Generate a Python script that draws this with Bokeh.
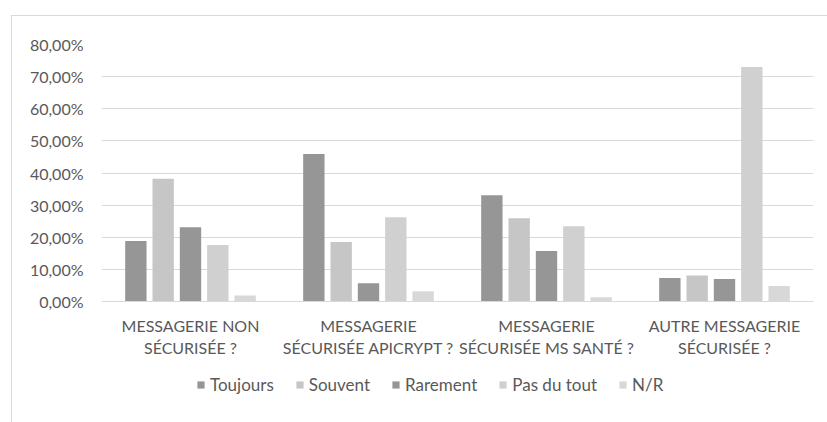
from bokeh.plotting import figure
from bokeh.layouts import column
from bokeh.models import (FactorRange, Legend, LegendItem, CustomJSTickFormatter,
                          FixedTicker, ColumnDataSource)
from bokeh.transform import dodge
from bokeh.embed import file_html
from bokeh.resources import INLINE

categories = ["MESSAGERIE NON\nSÉCURISÉE ?",
              "MESSAGERIE\nSÉCURISÉE APICRYPT ?",
              "MESSAGERIE\nSÉCURISÉE MS SANTÉ ?",
              "AUTRE MESSAGERIE\nSÉCURISÉE ?"]
series = ["Toujours", "Souvent", "Rarement", "Pas du tout", "N/R"]
toujours = [0.188, 0.459, 0.331, 0.073]
souvent = [0.382, 0.185, 0.259, 0.081]
rarement = [0.231, 0.057, 0.157, 0.070]
pas_du_tout = [0.176, 0.262, 0.234, 0.730]
nr = [0.019, 0.032, 0.013, 0.048]
y_ticks = [0.0, 0.1, 0.2, 0.3, 0.4, 0.5, 0.6, 0.7, 0.8]

colors = ["#969696", "#c6c6c6", "#969696", "#d0d0d0", "#d8d8d8"]
FONT = "Lato"
TXT = "#595959"
BORDER = "#d9d9d9"

src = ColumnDataSource(dict(cat=categories, toujours=toujours, souvent=souvent,
                            rarement=rarement, pas=pas_du_tout, nr=nr))
cols = ["toujours", "souvent", "rarement", "pas", "nr"]

p = figure(width=815, height=346, x_range=FactorRange(*categories),
           y_range=(0, 0.8), output_backend="svg", toolbar_location=None,
           min_border_left=89, min_border_right=14, min_border_top=28,
           min_border_bottom=61)
p.outline_line_color = None

step = 0.1535
for i, (c, col) in enumerate(zip(cols, colors)):
    p.vbar(x=dodge("cat", (i - 2) * step, range=p.x_range), top=c, width=0.12,
           source=src, fill_color=col, line_color=None)

p.yaxis.ticker = FixedTicker(ticks=y_ticks)
p.yaxis.formatter = CustomJSTickFormatter(
    code="return (tick*100).toFixed(2).replace('.', ',') + '%';")
p.yaxis.axis_line_color = None
p.yaxis.major_tick_line_color = None
p.yaxis.minor_tick_line_color = None
p.yaxis.major_tick_out = 0
p.yaxis.major_tick_in = 0
p.yaxis.major_label_standoff = 18
p.yaxis.major_label_text_font = FONT
p.yaxis.major_label_text_font_size = "16px"
p.yaxis.major_label_text_color = TXT

p.xaxis.axis_line_color = BORDER
p.xaxis.axis_line_width = 1
p.xaxis.major_tick_line_color = None
p.xaxis.minor_tick_line_color = None
p.xaxis.major_tick_out = 0
p.xaxis.major_tick_in = 0
p.xaxis.major_label_standoff = 14
p.xaxis.major_label_text_font = FONT
p.xaxis.major_label_text_font_size = "16px"
p.xaxis.major_label_text_color = TXT

p.xgrid.grid_line_color = None
p.ygrid.grid_line_color = BORDER
p.ygrid.grid_line_width = 1

# legend strip below the chart (legend glyphs come from the same data, out of view)
p_leg = figure(width=815, height=60, x_range=FactorRange(*categories), y_range=(1, 2),
               output_backend="svg", toolbar_location=None, min_border=0,
               x_axis_location=None, y_axis_location=None)
p_leg.xgrid.grid_line_color = None
p_leg.ygrid.grid_line_color = None
p_leg.outline_line_color = None
proxies = [p_leg.vbar(x="cat", top=c, width=0.1, source=src, fill_color=col,
                      line_color=None)
           for c, col in zip(cols, colors)]

legend = Legend(items=[LegendItem(label=s, renderers=[r]) for s, r in zip(series, proxies)],
                orientation="horizontal", location=(95, 27))
legend.label_text_font = FONT
legend.label_text_font_size = "17px"
legend.label_text_color = TXT
legend.glyph_width = 9
legend.glyph_height = 9
legend.label_standoff = 5
legend.spacing = 21
legend.padding = 0
legend.margin = 0
legend.border_line_color = None
legend.background_fill_alpha = 0
p_leg.add_layout(legend)

layout = column(p, p_leg, spacing=0,
                styles={"margin-left": "11px", "margin-top": "15px",
                        "border-left": "1px solid " + BORDER,
                        "border-top": "1px solid " + BORDER})

open("out.html", "w").write(file_html(layout, INLINE))
